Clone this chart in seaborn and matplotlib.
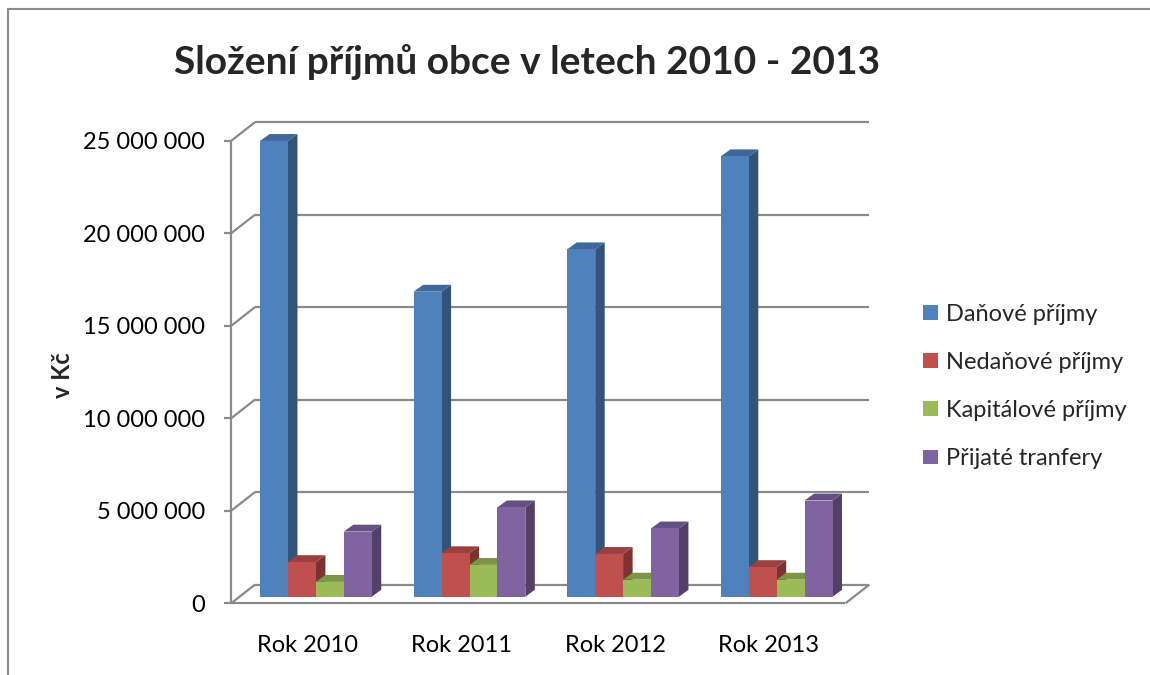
import numpy as np
import pandas as pd
import matplotlib
matplotlib.use("Agg")
import matplotlib.pyplot as plt
import matplotlib.colors as mcolors
from matplotlib.patches import Polygon
from matplotlib.lines import Line2D
import seaborn as sns

# ---------------- data ----------------
years = ["Rok 2010", "Rok 2011", "Rok 2012", "Rok 2013"]
series = ["Daňové příjmy", "Nedaňové příjmy", "Kapitálové příjmy", "Přijaté tranfery"]
danove = [24_640_000, 16_490_000, 18_780_000, 23_810_000]
nedanove = [1_870_000, 2_350_000, 2_310_000, 1_600_000]
kapitalove = [800_000, 1_720_000, 920_000, 920_000]
transfery = [3_520_000, 4_830_000, 3_690_000, 5_200_000]
colors = ["#4F81BD", "#C0504D", "#9BBB59", "#8064A2"]
yticks = [0, 5_000_000, 10_000_000, 15_000_000, 20_000_000, 25_000_000]
ytick_labels = ["0", "5 000 000", "10 000 000", "15 000 000", "20 000 000", "25 000 000"]
title = "Složení příjmů obce v letech 2010 - 2013"
ylabel = "v Kč"

df = pd.DataFrame({
    "rok": years * 4,
    "serie": [s for s in series for _ in years],
    "hodnota": danove + nedanove + kapitalove + transfery,
})

# ---------------- style ----------------
sns.set_theme(style="white")
plt.rcParams["font.family"] = ["Lato", "DejaVu Sans"]
FS = 17
GRAY = "#8A8A8A"

W, H = 1150, 675
fig = plt.figure(figsize=(W / 100, H / 100), dpi=100)
fig.patch.set_facecolor("white")

px_per_cat = 153.6
ax_left_px = 239.1
ax_bottom_px = 603.3
ax_h_px = 469.0
ax = fig.add_axes([ax_left_px / W, (H - ax_bottom_px) / H, 4 * px_per_cat / W, ax_h_px / H])
ax.set_facecolor("none")

sns.barplot(data=df, x="rok", y="hodnota", hue="serie", order=years, hue_order=series,
            palette=colors, width=0.727, saturation=1, linewidth=0, edgecolor="none",
            ax=ax, legend=True)
ax.set_xlim(-0.5, 3.5)
ax.set_ylim(0, 25_000_000)
for s in ax.spines.values():
    s.set_visible(False)

px_per_val = ax_h_px / 25_000_000
# depth offsets (data units)
f_dx, f_dy = -8.0 / px_per_cat, -6.7 / px_per_val       # front plane of walls
b_dx, b_dy = 15.9 / px_per_cat, 12.3 / px_per_val       # back wall
bar_dx, bar_dy = 9.5 / px_per_cat, 7.0 / px_per_val     # bar depth

x0, x1 = -0.5, 3.5
lkw = dict(color=GRAY, lw=1.6, clip_on=False, zorder=1, solid_capstyle="butt")
# back wall gridlines
for v in yticks:
    ax.add_line(Line2D([x0 + b_dx, x1 + b_dx], [v + b_dy, v + b_dy], **lkw))
# left wall: front vertical, ticks, diagonals
ax.add_line(Line2D([x0 + f_dx, x0 + f_dx], [f_dy, 25_000_000 + f_dy], **lkw))
for v in yticks:
    ax.add_line(Line2D([x0 + f_dx - 7 / px_per_cat, x0 + f_dx], [v + f_dy, v + f_dy], **lkw))
    ax.add_line(Line2D([x0 + f_dx, x0 + b_dx], [v + f_dy, v + b_dy], **lkw))
# floor front edge and right diagonal
ax.add_line(Line2D([x0 + f_dx, x1 + f_dx], [f_dy, f_dy], **lkw))
ax.add_line(Line2D([x1 + f_dx, x1 + b_dx], [f_dy, b_dy], **lkw))

# 3D faces of bars
def shade(c, f):
    r, g, b = mcolors.to_rgb(c)
    return (r * f, g * f, b * f)

for k, cont in enumerate(ax.containers):
    col = colors[k]
    for bar in cont:
        x = bar.get_x(); w = bar.get_width(); h = bar.get_height()
        bar.set_zorder(3)
        side = Polygon([(x + w, 0), (x + w, h), (x + w + bar_dx, h + bar_dy), (x + w + bar_dx, bar_dy)],
                       closed=True, facecolor=shade(col, 0.64), edgecolor="none", zorder=2, clip_on=False)
        top = Polygon([(x, h), (x + w, h), (x + w + bar_dx, h + bar_dy), (x + bar_dx, h + bar_dy)],
                      closed=True, facecolor=shade(col, 0.8), edgecolor="none", zorder=2, clip_on=False)
        ax.add_patch(side)
        ax.add_patch(top)

# ticks
ax.set_yticks([v + f_dy for v in yticks], ytick_labels)
ax.set_xticks([i + f_dx for i in range(len(years))], years)
ax.tick_params(axis="y", length=0, pad=24.5, labelsize=FS, labelcolor="black")
ax.tick_params(axis="x", length=0, pad=23, labelsize=FS, labelcolor="black")
ax.set_xlabel("")
ax.set_ylabel("")
ax.grid(False)

# legend
handles, labels = ax.get_legend_handles_labels()
if ax.get_legend() is not None:
    ax.get_legend().remove()
leg = ax.legend(handles, labels, loc="center left", bbox_to_anchor=(923 / W, 1 - 386.5 / H),
                bbox_transform=fig.transFigure, frameon=False, fontsize=FS,
                handlelength=0.62, handleheight=0.57, handletextpad=0.35,
                labelspacing=1.15, borderpad=0, borderaxespad=0)

# title and y label
fig.text(527 / W, 1 - 62 / H, title, ha="center", va="center", fontsize=28, fontweight="bold")
fig.text(63 / W, 1 - 375 / H, ylabel, ha="center", va="center", rotation=90,
         fontsize=FS, fontweight="bold")

# outer chart border (top and left)
fig.add_artist(Line2D([8 / W, 1], [1 - 9 / H, 1 - 9 / H], transform=fig.transFigure, color=GRAY, lw=1.5))
fig.add_artist(Line2D([8 / W, 8 / W], [0, 1 - 9 / H], transform=fig.transFigure, color=GRAY, lw=1.5))

fig.savefig("out.png", dpi=100)
